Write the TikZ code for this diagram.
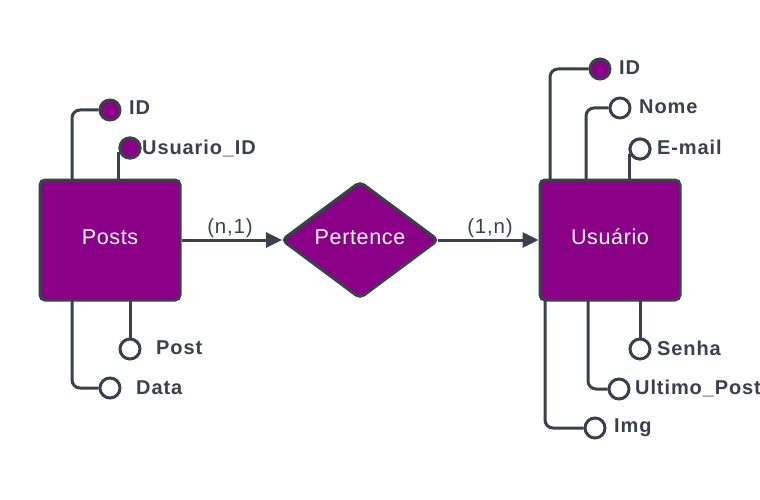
\documentclass[tikz,border=0pt]{standalone}
\usepackage{fontspec}
\setmainfont{Liberation Sans}
\usetikzlibrary{arrows.meta}
\definecolor{erpurple}{HTML}{8A0087}
\definecolor{erline}{HTML}{3A414A}
\tikzset{
  entity/.style={draw=erline, fill=erpurple, line width=3pt, rounded corners=5pt,
    minimum width=140pt, minimum height=120pt},
  wtext/.style={inner sep=0pt, text=white, font=\fontsize{21.5}{24}\selectfont\addfontfeature{LetterSpace=3}},
  relation/.style={draw=erline, fill=erpurple, line width=3pt, rounded corners=5pt},
  conn/.style={draw=erline, line width=3pt, rounded corners=8pt},
  keyattr/.style={circle, draw=erline, fill=erpurple, line width=3pt, minimum size=20pt, inner sep=0pt},
  attr/.style={circle, draw=erline, fill=white, line width=3pt, minimum size=20pt, inner sep=0pt},
  lbl/.style={anchor=west, inner sep=0pt, text=erline, font=\bfseries\fontsize{20}{24}\selectfont\addfontfeature{LetterSpace=4.5}},
  card/.style={inner sep=0pt, text=erline, font=\fontsize{20.5}{22}\selectfont\addfontfeature{LetterSpace=4}},
  arr/.style={draw=erline, line width=3pt, -{Triangle[length=16pt,width=15pt]}}
}
\begin{document}
\begin{tikzpicture}[x=1pt,y=-1pt]
\useasboundingbox (0,0) rectangle (760,500);
% entities
\node[entity] (posts) at (110,240) {};
\node[entity] (usuario) at (610,240) {};
\node[wtext] (tposts) at (110,237) {Posts};
\node[wtext] (tusuario) at (610,237) {Usuário};
% relation diamond
\path[relation] (282,240) -- (360,182) -- (438,240) -- (360,298) -- cycle;
\node[wtext] (pert) at (360,237) {Pertence};
\coordinate (pertW) at (282,240);
\coordinate (pertE) at (438,240);
% arrows
\draw[arr] (posts.east) -- (pertW);
\draw[arr] (pertE) -- (usuario.west);
\node[card] (c1) at (230,228) {(n,1)};
\node[card] (c2) at (490,228) {(1,n)};
% Posts attributes
\coordinate (pA) at (72,180);
\coordinate (pB) at (118,180);
\coordinate (pC) at (130,300);
\coordinate (pD) at (72,300);
\coordinate (pBtop) at (118,152);
\node[keyattr] (pid) at (110,110) {};
\node[keyattr] (puid) at (130,148) {};
\node[attr] (ppost) at (130,349) {};
\node[attr] (pdata) at (110,388) {};
\draw[conn] (pA) |- (pid.west);
\draw[conn] (pB) -- (pBtop);
\node[keyattr] at (puid) {};
\draw[conn] (pC) -- (ppost.north);
\draw[conn] (pD) |- (pdata.west);
\node[lbl] (lpid) at (129,108) {ID};
\node[lbl] (lpuid) at (142,148) {Usuario\_ID};
\node[lbl] (lppost) at (156,348) {Post};
\node[lbl] (lpdata) at (136,388) {Data};
% Usuario attributes
\coordinate (uA) at (550,180);
\coordinate (uB) at (586,180);
\coordinate (uC) at (629,180);
\coordinate (uCtop) at (629,154);
\coordinate (uD) at (640,300);
\coordinate (uE) at (588,300);
\coordinate (uF) at (545,300);
\node[keyattr] (uid) at (600,69) {};
\node[attr] (unome) at (620,108) {};
\node[attr] (uemail) at (640,149) {};
\node[attr] (usenha) at (640,349) {};
\node[attr] (uult) at (619,389) {};
\node[attr] (uimg) at (595,428) {};
\draw[conn] (uA) |- (uid.west);
\draw[conn] (uB) |- (unome.west);
\draw[conn] (uC) -- (uCtop);
\node[attr] at (uemail) {};
\draw[conn] (uD) -- (usenha.north);
\draw[conn] (uE) |- (uult.west);
\draw[conn] (uF) |- (uimg.west);
\node[lbl] (luid) at (619,68) {ID};
\node[lbl] (lunome) at (639,107) {Nome};
\node[lbl] (luemail) at (657,147) {E-mail};
\node[lbl] (lusenha) at (657,348) {Senha};
\node[lbl] (luult) at (635,388) {Ultimo\_Post};
\node[lbl] (luimg) at (614,428) {Img};
\end{tikzpicture}
\end{document}
